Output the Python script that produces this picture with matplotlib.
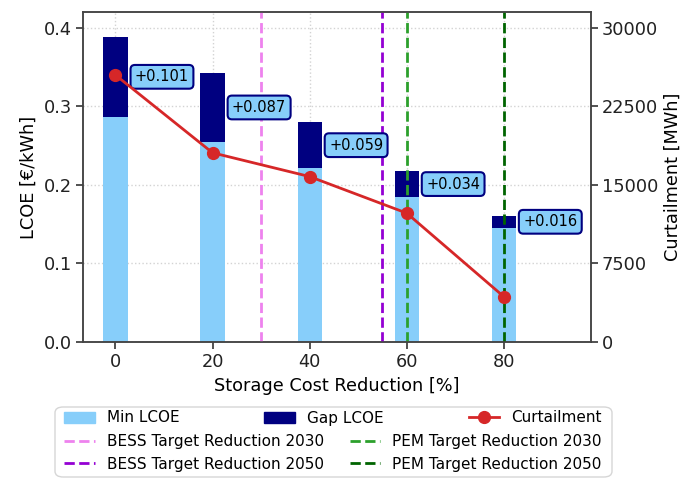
import matplotlib
matplotlib.use('Agg')
from matplotlib import pyplot as plt
from matplotlib.patches import FancyBboxPatch
from matplotlib.patches import Patch
import numpy as np

reduction = [0, 20, 40, 60, 80]
min_lcoe = [0.287, 0.255, 0.221, 0.184, 0.145]
gap_lcoe = [0.101, 0.087, 0.059, 0.034, 0.016]
curtailment = [25480, 18060, 15790, 12300, 4330]
gap_labels = ['+0.101', '+0.087', '+0.059', '+0.034', '+0.016']

targets = [30, 55, 60, 80]
target_labels = ['BESS Target Reduction 2030', 'BESS Target Reduction 2050',
                 'PEM Target Reduction 2030', 'PEM Target Reduction 2050']
target_colors = ['violet', 'darkviolet', 'tab:green', 'darkgreen']

fig = plt.figure(figsize=(6.84, 4.80), dpi=100)
ax = fig.add_axes([0.1213, 0.2875, 0.7423, 0.6875])
ax2 = ax.twinx()

tick_fs = 12.8
ax.bar(reduction, min_lcoe, width=5, color='lightskyblue', label='Min LCOE', zorder=2)
ax.bar(reduction, gap_lcoe, width=5, bottom=min_lcoe, color='navy', label='Gap LCOE', zorder=2)

vl = []
for t, lab, c in zip(targets, target_labels, target_colors):
    h = ax.axvline(t, color=c, linestyle='--', linewidth=2, label=lab, zorder=3)
    vl.append(h)

for x, m, g, s in zip(reduction, min_lcoe, gap_lcoe, gap_labels):
    ax.text(x + 4, m + g / 2, s, ha='left', va='center', fontsize=10.5, zorder=5,
            bbox=dict(boxstyle='round,pad=0.3', facecolor='lightskyblue', edgecolor='navy', linewidth=1.5))

ln, = ax2.plot(reduction, curtailment, color='tab:red', marker='o', markersize=8.5,
               linewidth=2, label='Curtailment')

ax.set_xlim(-6.7, 97.9)
ax.set_ylim(0, 0.42)
ax2.set_ylim(0, 31500)
ax.set_xticks(reduction)
ax.set_yticks([0, 0.1, 0.2, 0.3, 0.4])
ax2.set_yticks([0, 7500, 15000, 22500, 30000])
ax.grid(True, linestyle=':', color='lightgray', linewidth=1, zorder=0)
ax.set_axisbelow(True)

ax.set_xlabel('Storage Cost Reduction [%]', fontsize=tick_fs)
ax.set_ylabel('LCOE [€/kWh]', fontsize=tick_fs)
ax2.set_ylabel('Curtailment [MWh]', fontsize=tick_fs)
for a in (ax, ax2):
    a.tick_params(labelsize=tick_fs, colors='#222222', length=5, width=1.1, pad=3)
    for sp in a.spines.values():
        sp.set_color('#444444')
        sp.set_linewidth(1.1)

# legend frame shared by two legends
frame = FancyBboxPatch((55 / 684, 3 / 480), (612 - 55) / 684, (475 - 405) / 480,
                       boxstyle='round,pad=0,rounding_size=0.012', transform=fig.transFigure,
                       facecolor='white', edgecolor='#cccccc', linewidth=1, alpha=0.8)
fig.patches.append(frame)

h1 = [Patch(color='lightskyblue'), Patch(color='navy'), ln]
l1 = ['Min LCOE', 'Gap LCOE', 'Curtailment']
leg1 = fig.legend(h1, l1, ncol=3, mode='expand', loc='center left', frameon=False,
                  bbox_to_anchor=(64 / 684, 1 - 418 / 480, (602 - 64) / 684, 0),
                  borderaxespad=0, borderpad=0, fontsize=11)
leg2 = fig.legend(vl, target_labels, ncol=2, mode='expand', loc='center left', frameon=False,
                  bbox_to_anchor=(64 / 684, 1 - 453 / 480, (602 - 64) / 684, 0),
                  borderaxespad=0, borderpad=0, fontsize=11)

fig.savefig('out.png', dpi=100)
